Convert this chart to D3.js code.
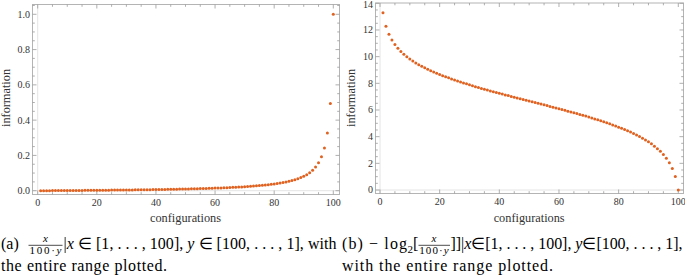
<!DOCTYPE html>
<html><head><meta charset="utf-8">
<script src="https://cdn.jsdelivr.net/npm/d3@7"></script>
<style>
html,body{margin:0;padding:0;background:#fff;overflow:hidden}
svg text{font-family:"Liberation Serif","Times New Roman",serif}
</style>
</head><body>
<svg id="c" width="685" height="275" xmlns="http://www.w3.org/2000/svg"></svg>
<script>
// ---- data ----
const configurations = [1,2,3,4,5,6,7,8,9,10,11,12,13,14,15,16,17,18,19,20,
  21,22,23,24,25,26,27,28,29,30,31,32,33,34,35,36,37,38,39,40,
  41,42,43,44,45,46,47,48,49,50,51,52,53,54,55,56,57,58,59,60,
  61,62,63,64,65,66,67,68,69,70,71,72,73,74,75,76,77,78,79,80,
  81,82,83,84,85,86,87,88,89,90,91,92,93,94,95,96,97,98,99,100];
const infoRatio = [0.0001,0.000202,0.000306,0.000412,0.000521,0.000632,0.000745,0.00086,0.000978,0.001099,
  0.001222,0.001348,0.001477,0.001609,0.001744,0.001882,0.002024,0.002169,0.002317,0.002469,
  0.002625,0.002785,0.002949,0.003117,0.003289,0.003467,0.003649,0.003836,0.004028,0.004225,
  0.004429,0.004638,0.004853,0.005075,0.005303,0.005538,0.005781,0.006032,0.00629,0.006557,
  0.006833,0.007119,0.007414,0.007719,0.008036,0.008364,0.008704,0.009057,0.009423,0.009804,
  0.0102,0.010612,0.011042,0.011489,0.011957,0.012444,0.012955,0.013488,0.014048,0.014634,
  0.01525,0.015897,0.016579,0.017297,0.018056,0.018857,0.019706,0.020606,0.021563,0.022581,
  0.023667,0.024828,0.026071,0.027407,0.028846,0.0304,0.032083,0.033913,0.035909,0.038095,
  0.0405,0.043158,0.046111,0.049412,0.053125,0.057333,0.062143,0.067692,0.074167,0.081818,
  0.091,0.102222,0.11625,0.134286,0.158333,0.192,0.2425,0.326667,0.495,1.0];
const infoLog = [13.29,12.27,11.67,11.24,10.91,10.63,10.39,10.18,10.00,9.83,
  9.68,9.53,9.40,9.28,9.16,9.05,8.95,8.85,8.75,8.66,
  8.57,8.49,8.41,8.33,8.25,8.17,8.10,8.03,7.96,7.89,
  7.82,7.75,7.69,7.62,7.56,7.50,7.43,7.37,7.31,7.25,
  7.19,7.13,7.08,7.02,6.96,6.90,6.84,6.79,6.73,6.67,
  6.62,6.56,6.50,6.44,6.39,6.33,6.27,6.21,6.15,6.09,
  6.04,5.98,5.91,5.85,5.79,5.73,5.67,5.60,5.54,5.47,
  5.40,5.33,5.26,5.19,5.12,5.04,4.96,4.88,4.80,4.71,
  4.63,4.53,4.44,4.34,4.23,4.12,4.01,3.88,3.75,3.61,
  3.46,3.29,3.10,2.90,2.66,2.38,2.04,1.61,1.01,0];
const xTicks = [0,20,40,60,80,100];
const yTicksA = [0,0.2,0.4,0.6,0.8,1.0];
const yTicksB = [0,2,4,6,8,10,12,14];
const xTitle = "configurations";
const yTitle = "information";

// ---- drawing ----
const svg = d3.select("#c");
const PT = "#df6221";

function panel(o) {
  const g = svg.append("g");
  const x = d3.scaleLinear().domain([0,100]).range(o.xr);
  const y = d3.scaleLinear().domain(o.yd).range(o.yr);
  const [fx0, fx1, fy0, fy1] = o.frame;
  g.append("line").attr("x1", x(0)).attr("x2", x(0)).attr("y1", fy0).attr("y2", fy1)
    .attr("stroke", "#e4e4e4").attr("stroke-width", 1);
  g.append("line").attr("x1", fx0).attr("x2", fx1).attr("y1", y(0)).attr("y2", y(0))
    .attr("stroke", "#e4e4e4").attr("stroke-width", 1);
  g.append("rect").attr("x", fx0).attr("y", fy0).attr("width", fx1 - fx0).attr("height", fy1 - fy0)
    .attr("fill", "none").attr("stroke", "#b4b4b4").attr("stroke-width", 1);
  const tk = g.append("g").attr("stroke", "#9a9a9a").attr("stroke-width", 0.8);
  d3.range(0, 100.01, 5).forEach(v => {
    const L = xTicks.includes(v) ? 4 : 2.3;
    tk.append("line").attr("x1", x(v)).attr("x2", x(v)).attr("y1", fy1).attr("y2", fy1 - L);
    tk.append("line").attr("x1", x(v)).attr("x2", x(v)).attr("y1", fy0).attr("y2", fy0 + L);
  });
  o.yMinor.forEach(v => {
    const L = o.yTicks.some(t => Math.abs(t - v) < 1e-9) ? 4 : 2.3;
    tk.append("line").attr("y1", y(v)).attr("y2", y(v)).attr("x1", fx0).attr("x2", fx0 + L);
    tk.append("line").attr("y1", y(v)).attr("y2", y(v)).attr("x1", fx1).attr("x2", fx1 - L);
  });
  g.append("g").selectAll("text").data(xTicks).join("text")
    .attr("x", d => x(d)).attr("y", fy1 + 11.5).attr("text-anchor", "middle")
    .attr("font-size", 10).attr("fill", "#333").text(d => d);
  g.append("g").selectAll("text").data(o.yTicks).join("text")
    .attr("x", fx0 - 2.5).attr("y", d => Math.max(y(d) + 3.4, 8)).attr("text-anchor", "end")
    .attr("font-size", 10).attr("fill", "#333").text(o.fmt);
  g.append("text").attr("x", (o.xr[0] + o.xr[1]) / 2).attr("y", 222)
    .attr("text-anchor", "middle").attr("font-size", 12.3)
    .attr("fill", "#333").text(xTitle);
  g.append("text").attr("transform", `translate(${o.yTitleX},${o.yTitleY}) rotate(-90)`)
    .attr("text-anchor", "middle").attr("font-size", 12.3)
    .attr("fill", "#333").text(yTitle);
  g.append("g").selectAll("circle").data(configurations).join("circle")
    .attr("cx", d => x(d)).attr("cy", (d, i) => y(o.values[i])).attr("r", 1.5).attr("fill", PT);
}

panel({xr: [37.7, 333.3], yd: [0, 1], yr: [190.7, 14.3], frame: [32.5, 339.5, 4.5, 194.5],
  yTicks: yTicksA, yMinor: d3.range(0, 1.051, 0.05), fmt: d => d.toFixed(1),
  values: infoRatio, yTitleX: 9.5, yTitleY: 98});
panel({xr: [380, 678.3], yd: [0, 14], yr: [190, 3.3], frame: [375.5, 683.5, 3, 193.5],
  yTicks: yTicksB, yMinor: d3.range(0, 14.01, 0.5), fmt: d => d,
  values: infoLog, yTitleX: 354.5, yTitleY: 98});

// ---- captions ----
const cap = svg.append("g").attr("fill", "#000");
function frac(cx, x0, x1) {
  cap.append("text").attr("x", cx).attr("y", 241.5).attr("text-anchor", "middle")
    .attr("font-size", 11).attr("font-style", "italic").text("x");
  cap.append("line").attr("x1", x0).attr("x2", x1).attr("y1", 245.3).attr("y2", 245.3)
    .attr("stroke", "#000").attr("stroke-width", 0.7);
  const t = cap.append("text").attr("x", cx).attr("y", 254.2).attr("text-anchor", "middle")
    .attr("font-size", 11).attr("textLength", x1 - x0 - 2).attr("lengthAdjust", "spacing");
  t.append("tspan").text("100·");
  t.append("tspan").attr("font-style", "italic").text("y");
}
cap.append("text").attr("x", 1).attr("y", 249).attr("font-size", 16).text("(a)");
frac(45.5, 28.5, 62.5);
{
  const t = cap.append("text").attr("x", 63.5).attr("y", 249).attr("font-size", 16)
    .attr("textLength", 273).attr("lengthAdjust", "spacing");
  t.append("tspan").text("|");
  t.append("tspan").attr("font-style", "italic").text("x");
  t.append("tspan").text(" ∈ [1, . . . , 100], ");
  t.append("tspan").attr("font-style", "italic").text("y");
  t.append("tspan").text(" ∈ [100, . . . , 1], with");
}
cap.append("text").attr("x", 1).attr("y", 271).attr("font-size", 16)
  .attr("textLength", 166).attr("lengthAdjust", "spacing").text("the entire range plotted.");
cap.append("text").attr("x", 342).attr("y", 249).attr("font-size", 16)
  .attr("textLength", 65).attr("lengthAdjust", "spacing").text("(b) − log");
cap.append("text").attr("x", 407.5).attr("y", 252.5).attr("font-size", 11).text("2");
cap.append("text").attr("x", 413).attr("y", 249).attr("font-size", 16).text("[");
frac(434, 418.5, 450);
{
  const t = cap.append("text").attr("x", 450.5).attr("y", 249).attr("font-size", 16)
    .attr("textLength", 232).attr("lengthAdjust", "spacing");
  t.append("tspan").text("]]|");
  t.append("tspan").attr("font-style", "italic").text("x");
  t.append("tspan").text("∈[1, . . . , 100], ");
  t.append("tspan").attr("font-style", "italic").text("y");
  t.append("tspan").text("∈[100, . . . , 1],");
}
cap.append("text").attr("x", 342).attr("y", 271).attr("font-size", 16)
  .attr("textLength", 211).attr("lengthAdjust", "spacing").text("with the entire range plotted.");
</script>
</body></html>
